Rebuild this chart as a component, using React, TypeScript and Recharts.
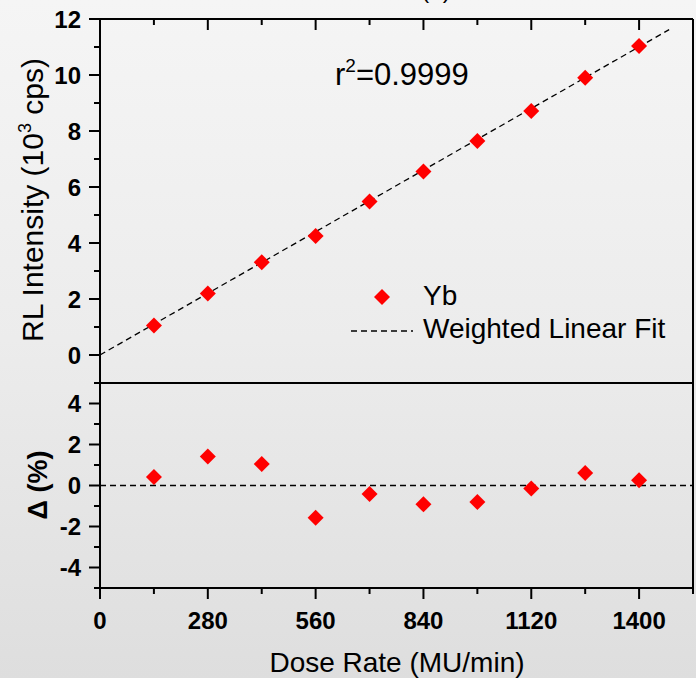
import React from 'react';
import { ComposedChart, Scatter, Line, XAxis, YAxis, ReferenceLine, Legend } from 'recharts';

// values
const doseRates = [140, 280, 420, 560, 700, 840, 980, 1120, 1260, 1400];
const rlIntensity = [1.05, 2.2, 3.31, 4.25, 5.48, 6.55, 7.64, 8.71, 9.9, 11.04];
const residuals = [0.42, 1.42, 1.05, -1.57, -0.42, -0.92, -0.8, -0.15, 0.61, 0.26];
const fitX = [0, 1478];
const fitY = [0, 11.62];

const xTicks = [0, 140, 280, 420, 560, 700, 840, 980, 1120, 1260, 1400, 1540];
const xMajors = [0, 280, 560, 840, 1120, 1400];
const topTicks = [0, 1, 2, 3, 4, 5, 6, 7, 8, 9, 10, 11, 12];
const topMajors = [0, 2, 4, 6, 8, 10, 12];
const resTicks = [-5, -4, -3, -2, -1, 0, 1, 2, 3, 4, 5];
const resMajors = [-4, -2, 0, 2, 4];

const FONT = '"Liberation Sans", Arial, Helvetica, sans-serif';
const RED = '#ff0000';

const points = doseRates.map((x, i) => ({ x, y: rlIntensity[i] }));
const fitLine = fitX.map((x, i) => ({ x, y: fitY[i] }));
const resPoints = doseRates.map((x, i) => ({ x, y: residuals[i] }));

type Side = 'left' | 'right' | 'top' | 'bottom';

function makeTick(side: Side, majors: number[], showLabels: boolean) {
  return (props: any) => {
    const { x, y, payload } = props;
    const v = payload.value;
    const major = majors.includes(v);
    const len = major ? 11 : 6;
    const ln = { stroke: '#000', strokeWidth: 2 };
    let line;
    if (side === 'left') line = <line {...ln} x1={x - len} x2={x} y1={y} y2={y} />;
    else if (side === 'right') line = <line {...ln} x1={x - len} x2={x} y1={y} y2={y} />;
    else line = <line {...ln} x1={x} x2={x} y1={y} y2={y + len} />;
    let label = null;
    if (showLabels && major) {
      label =
        side === 'left' ? (
          <text x={x - 19} y={y + 8.5} textAnchor="end" fontSize={24} fontWeight="bold" fill="#000" stroke="none" fontFamily={FONT}>
            {String(v)}
          </text>
        ) : (
          <text x={x} y={y + 40.5} textAnchor="middle" fontSize={24} fontWeight="bold" fill="#000" stroke="none" fontFamily={FONT}>
            {String(v)}
          </text>
        );
    }
    return (
      <g>
        {line}
        {label}
      </g>
    );
  };
}

const Diamond = (props: any) => {
  const { cx, cy } = props;
  if (cx == null || cy == null) return null;
  const r = 8;
  return <polygon points={`${cx},${cy - r} ${cx + r},${cy} ${cx},${cy + r} ${cx - r},${cy}`} fill={RED} />;
};

const LegendBox = () => (
  <svg width={356} height={80} style={{ display: 'block' }}>
    <polygon points="42,14 50,22 42,30 34,22" fill={RED} />
    <text x={83} y={30} fontSize={28} fontFamily={FONT} fill="#000">Yb</text>
    <line x1={11} x2={73} y1={56} y2={56} stroke="#000" strokeWidth={1.3} strokeDasharray="6 4" />
    <text x={83} y={63} fontSize={28} fontFamily={FONT} fill="#000">Weighted Linear Fit</text>
  </svg>
);

const axisLine = { stroke: '#000', strokeWidth: 2 };

export default function App() {
  return (
    <div
      style={{
        position: 'absolute',
        left: 0,
        top: 0,
        width: 696,
        height: 678,
        overflow: 'hidden',
        background: 'linear-gradient(180deg, #f5f5f5 0%, #ececec 50%, #dedede 100%)',
        fontFamily: FONT,
      }}
    >
      {/* top panel */}
      <div style={{ position: 'absolute', left: 0, top: 0 }}>
        <ComposedChart width={696} height={383} margin={{ top: 18, right: 2, bottom: 0, left: 0 }}>
          <XAxis
            type="number"
            dataKey="x"
            orientation="top"
            height={1}
            domain={[0, 1540]}
            ticks={xTicks}
            interval={0}
            allowDataOverflow
            tickSize={0}
            tickMargin={0}
            tickLine={false}
            axisLine={axisLine}
            tick={makeTick('top', xMajors, false)}
          />
          <YAxis
            type="number"
            width={100}
            domain={[-1, 12]}
            ticks={topTicks}
            interval={0}
            allowDataOverflow
            tickSize={0}
            tickMargin={0}
            tickLine={false}
            axisLine={axisLine}
            tick={makeTick('left', topMajors, true)}
          />
          <YAxis
            yAxisId="r"
            orientation="right"
            type="number"
            width={1}
            domain={[-1, 12]}
            ticks={topTicks}
            interval={0}
            tickSize={0}
            tickMargin={0}
            tickLine={false}
            axisLine={axisLine}
            tick={makeTick('right', topMajors, false)}
          />
          <Line
            data={fitLine}
            dataKey="y"
            type="linear"
            dot={false}
            stroke="#000"
            strokeWidth={1.3}
            strokeDasharray="6 4"
            isAnimationActive={false}
            legendType="none"
          />
          <Scatter data={points} dataKey="y" shape={Diamond} isAnimationActive={false} />
          <Legend
            layout="vertical"
            align="center"
            verticalAlign="middle"
            wrapperStyle={{ left: 340, top: 275, width: 356 }}
            content={() => <LegendBox />}
          />
        </ComposedChart>
      </div>

      {/* residual panel */}
      <div style={{ position: 'absolute', left: 0, top: 0 }}>
        <ComposedChart width={696} height={678} margin={{ top: 382, right: 2, bottom: 30, left: 0 }}>
          <XAxis
            type="number"
            dataKey="x"
            height={60}
            domain={[0, 1540]}
            ticks={xTicks}
            interval={0}
            allowDataOverflow
            tickSize={0}
            tickMargin={0}
            tickLine={false}
            axisLine={axisLine}
            tick={makeTick('bottom', xMajors, true)}
          />
          <XAxis
            xAxisId="t"
            type="number"
            dataKey="x"
            orientation="top"
            height={1}
            domain={[0, 1540]}
            ticks={xTicks}
            interval={0}
            tickSize={0}
            tickMargin={0}
            tickLine={false}
            axisLine={axisLine}
            tick={makeTick('top', xMajors, false)}
          />
          <YAxis
            type="number"
            width={100}
            domain={[-5, 5]}
            ticks={resTicks}
            interval={0}
            allowDataOverflow
            tickSize={0}
            tickMargin={0}
            tickLine={false}
            axisLine={axisLine}
            tick={makeTick('left', resMajors, true)}
          />
          <YAxis
            yAxisId="r"
            orientation="right"
            type="number"
            width={1}
            domain={[-5, 5]}
            ticks={resTicks}
            interval={0}
            tickSize={0}
            tickMargin={0}
            tickLine={false}
            axisLine={axisLine}
            tick={makeTick('right', resMajors, false)}
          />
          <ReferenceLine y={0} stroke="#000" strokeWidth={1.3} strokeDasharray="6 4" />
          <Scatter data={resPoints} dataKey="y" shape={Diamond} isAnimationActive={false} />
        </ComposedChart>
      </div>

      {/* titles and annotation */}
      <svg
        width={696}
        height={678}
        style={{ position: 'absolute', left: 0, top: 0, pointerEvents: 'none' }}
        fontFamily={FONT}
      >
        <text x={436} y={-2} textAnchor="middle" fontSize={24} fill="#000">(a)</text>
        <text x={335} y={85} fontSize={31} fill="#000">
          r<tspan dy={-13} fontSize={19}>2</tspan>
          <tspan dy={13}>=0.9999</tspan>
        </text>
        <text transform="translate(43,200) rotate(-90)" textAnchor="middle" fontSize={30} fill="#000">
          RL Intensity (10<tspan dy={-12} fontSize={18}>3</tspan>
          <tspan dy={12}> cps)</tspan>
        </text>
        <text transform="translate(47,485) rotate(-90)" textAnchor="middle" fontSize={27} fontWeight="bold" fill="#000">
          Δ (%)
        </text>
        <text x={397} y={672} textAnchor="middle" fontSize={28} fill="#000">Dose Rate (MU/min)</text>
      </svg>
    </div>
  );
}
